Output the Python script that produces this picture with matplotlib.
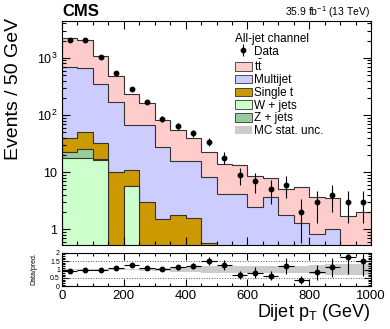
import numpy as np
import matplotlib.pyplot as plt
from matplotlib.patches import Patch
from matplotlib.ticker import MultipleLocator, LogLocator, NullFormatter

plt.rcParams['font.family'] = ['Liberation Sans', 'DejaVu Sans']
plt.rcParams['mathtext.fontset'] = 'custom'
plt.rcParams['mathtext.rm'] = 'Liberation Sans'
plt.rcParams['mathtext.it'] = 'Liberation Sans:italic'

##### values #####
edges = np.arange(0, 1001, 50)

data = np.array([2040, 2040, 1045, 538, 290, 170, 86, 63, 48, 34,
                 18, 9, 7, 5, 6, 2, 3, 4, 3, 3], dtype=float)
ttbar = np.array([1491, 1427, 729, 316, 165, 93, 55, 40, 24.4, 14.3,
                  9.8, 9.3, 6.15, 4.3, 3.25, 4.1, 2.83, 2.55, 1.7, 2.0])
multijet = np.array([652, 615, 314, 156, 56, 64, 26.5, 13.6, 13.9, 7.6,
                     4.2, 4.2, 2.45, 3.6, 1.75, 1.3, 0.82, 1.0, 0, 0])
single_t = np.array([17.4, 24.3, 15.2, 10.0, 5.0, 3.0, 1.5, 1.8, 1.55, 0.57,
                     0, 0, 0, 0, 0, 0, 0, 0, 0, 0])
zjets = np.array([4.5, 7.7, 0.3, 0, 0, 0, 0, 0, 0, 0,
                  0, 0, 0, 0, 0, 0, 0, 0, 0, 0])
wjets = np.array([17.9, 17.9, 16.5, 0, 5.7, 0, 0, 0, 0, 0,
                  0, 0, 0, 0, 0, 0, 0, 0, 0, 0])
# relative MC stat. uncertainty (half width of the grey band)
mc_unc = np.array([0.04, 0.04, 0.04, 0.05, 0.05, 0.06, 0.07, 0.12, 0.14, 0.18,
                   0.2, 0.2, 0.2, 0.2, 0.22, 0.22, 0.25, 0.3, 0.3, 0.3])
##### values #####

c_tt = '#ffcccc'
c_mj = '#ccccff'
c_st = '#cc9900'
c_w = '#ccffcc'
c_z = '#99cc99'
c_unc = '#cccccc'
edge = '#333333'

layers = [(wjets, c_w), (zjets, c_z), (single_t, c_st), (multijet, c_mj), (ttbar, c_tt)]
cums = np.cumsum([l[0] for l in layers], axis=0)
total = cums[-1]

fig = plt.figure(figsize=(3.9, 3.29), dpi=100)
ax = fig.add_axes([62 / 390, 1 - 245 / 329, 309 / 390, 224.5 / 329])
rax = fig.add_axes([62 / 390, 1 - 286.3 / 329, 309 / 390, 33.6 / 329])

# stack, drawn from the top layer down
for i in range(len(layers) - 1, -1, -1):
    ax.stairs(np.maximum(cums[i], 1e-3), edges, baseline=1e-3, fill=True,
              facecolor=layers[i][1], edgecolor=edge, lw=0.8)

cents = 0.5 * (edges[1:] + edges[:-1])
err = np.sqrt(data)
dat = ax.errorbar(cents, data, yerr=err, fmt='o', color='k', ms=3.2,
                  elinewidth=0.8, capsize=0)

ax.set_yscale('log')
ax.set_xlim(0, 1000)
ax.set_ylim(0.53, 4500)
ax.xaxis.set_major_locator(MultipleLocator(200))
ax.xaxis.set_minor_locator(MultipleLocator(50))
ax.yaxis.set_major_locator(LogLocator(base=10))
ax.yaxis.set_minor_locator(LogLocator(base=10, subs=np.arange(2, 10)))
ax.yaxis.set_minor_formatter(NullFormatter())
ax.set_yticks([1, 10, 100, 1000])
ax.set_yticklabels(['1', '10', r'$10^2$', r'$10^3$'])
ax.tick_params(which='both', direction='in', top=True, right=True,
               labelbottom=False, labelsize=9, width=0.8)
ax.tick_params(which='major', length=6)
ax.tick_params(which='minor', length=3)

handles = [dat,
           Patch(facecolor=c_tt, edgecolor=edge, lw=0.6),
           Patch(facecolor=c_mj, edgecolor=edge, lw=0.6),
           Patch(facecolor=c_st, edgecolor=edge, lw=0.6),
           Patch(facecolor=c_w, edgecolor=edge, lw=0.6),
           Patch(facecolor=c_z, edgecolor=edge, lw=0.6),
           Patch(facecolor=c_unc, edgecolor='none')]
labels = ['Data', r't$\bar{\mathrm{t}}$', 'Multijet', 'Single t',
          'W + jets', 'Z + jets', 'MC stat. unc.']
leg = ax.legend(handles, labels, title='All-jet channel', loc='upper left',
                bbox_to_anchor=(0.56, 0.945), frameon=False, fontsize=8.5,
                title_fontsize=8.5, alignment='left', handlelength=1.4,
                handleheight=0.75, handletextpad=0.2, labelspacing=0.06,
                borderpad=0, borderaxespad=0)

# ratio panel
ratio = data / total
ratio_err = err / total
rax.stairs(1 + mc_unc, edges, baseline=1 - mc_unc, fill=True, color=c_unc, lw=0)
for yv in [0.5, 1.5]:
    rax.axhline(yv, color='#555555', ls=':', lw=0.7)
rax.errorbar(cents, ratio, yerr=ratio_err, xerr=25, fmt='o', color='k', ms=3.2,
             elinewidth=0.8, capsize=0)
rax.set_xlim(0, 1000)
rax.set_ylim(0, 2)
rax.xaxis.set_major_locator(MultipleLocator(200))
rax.xaxis.set_minor_locator(MultipleLocator(50))
rax.set_yticks([0, 0.5, 1, 1.5, 2])
rax.set_yticklabels(['0', '0.5', '1', '1.5', '2'])
rax.yaxis.set_minor_locator(MultipleLocator(0.1))
rax.tick_params(which='both', direction='in', top=True, right=True, width=0.8)
rax.tick_params(axis='x', labelsize=9.5, pad=3)
rax.tick_params(axis='y', labelsize=5, pad=1.5)
rax.tick_params(which='major', length=5)
rax.tick_params(which='minor', length=2.5)

fig.text(62 / 390, 1 - 16 / 329, 'CMS', fontsize=12, weight='bold',
         ha='left', va='baseline')
fig.text(370 / 390, 1 - 16 / 329, r'35.9 fb$^{-1}$ (13 TeV)', fontsize=7.5,
         ha='right', va='baseline')
fig.text(5 / 390, 1 - 18 / 329, 'Events / 50 GeV', fontsize=14,
         rotation=90, ha='left', va='top')
fig.text(30 / 390, 1 - 269 / 329, 'Data/pred.', fontsize=5,
         rotation=90, ha='left', va='center')
fig.text(370 / 390, 1 - 317 / 329, r'Dijet p$_\mathrm{T}$ (GeV)', fontsize=13,
         ha='right', va='baseline')

fig.savefig('out.png', dpi=100)
